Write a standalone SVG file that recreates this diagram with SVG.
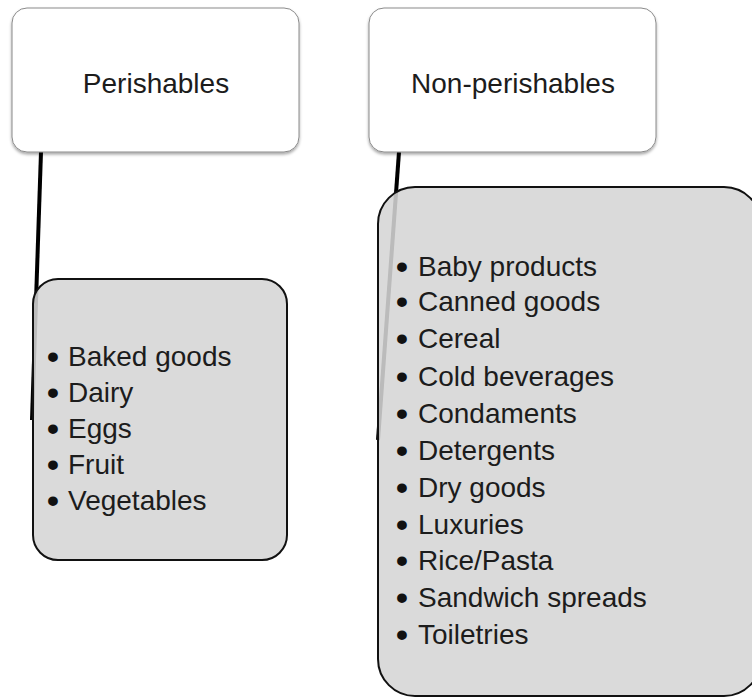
<svg xmlns="http://www.w3.org/2000/svg" width="752" height="698" viewBox="0 0 752 698">
  <defs>
    <filter id="shadow" x="-10%" y="-10%" width="120%" height="130%">
      <feDropShadow dx="0" dy="2" stdDeviation="1.6" flood-color="#000" flood-opacity="0.35"/>
    </filter>
  </defs>
  <style>
    .head { fill: #ffffff; stroke: #8a8a8a; stroke-width: 1; }
    .list { fill: #d5d5d5; fill-opacity: 0.88; stroke: #111111; stroke-width: 2; }
    .link { fill: none; stroke: #000000; stroke-width: 4; stroke-linecap: butt; }
    text { font-family: "Liberation Sans", Arial, sans-serif; font-size: 28px; fill: #1c1c1c; }
    .title { text-anchor: middle; }
    .dot { font-size: 34px; font-weight: bold; fill: #111111; }
  </style>

  <!-- connectors run behind the list boxes -->
  <g id="connectors">
    <path class="link" d="M41,152 L32,420"/>
    <path class="link" d="M399,152 L378,440"/>
  </g>

  <g id="perishables">
    <rect class="head" x="12" y="8" width="287" height="144" rx="15" filter="url(#shadow)"/>
    <text class="title" x="156" y="93">Perishables</text>
  </g>

  <g id="non-perishables">
    <rect class="head" x="369" y="8" width="287" height="144" rx="15" filter="url(#shadow)"/>
    <text class="title" x="513" y="93">Non-perishables</text>
  </g>

  <!-- each line: a bullet dropped onto the x-height, then the item -->
  <g id="perishables-list">
    <rect class="list" x="33" y="279" width="254" height="281" rx="25"/>
    <text x="47" y="366"><tspan class="dot" dy="2">•</tspan><tspan x="68" dy="-2">Baked goods</tspan></text>
    <text x="47" y="402"><tspan class="dot" dy="2">•</tspan><tspan x="68" dy="-2">Dairy</tspan></text>
    <text x="47" y="438"><tspan class="dot" dy="2">•</tspan><tspan x="68" dy="-2">Eggs</tspan></text>
    <text x="47" y="474"><tspan class="dot" dy="2">•</tspan><tspan x="68" dy="-2">Fruit</tspan></text>
    <text x="47" y="510"><tspan class="dot" dy="2">•</tspan><tspan x="68" dy="-2">Vegetables</tspan></text>
  </g>

  <g id="non-perishables-list">
    <rect class="list" x="378" y="187" width="383" height="509" rx="37"/>
    <text x="396" y="276"><tspan class="dot" dy="2">•</tspan><tspan x="418" dy="-2">Baby products</tspan></text>
    <text x="396" y="311"><tspan class="dot" dy="2">•</tspan><tspan x="418" dy="-2">Canned goods</tspan></text>
    <text x="396" y="348"><tspan class="dot" dy="2">•</tspan><tspan x="418" dy="-2">Cereal</tspan></text>
    <text x="396" y="386"><tspan class="dot" dy="2">•</tspan><tspan x="418" dy="-2">Cold beverages</tspan></text>
    <text x="396" y="423"><tspan class="dot" dy="2">•</tspan><tspan x="418" dy="-2">Condaments</tspan></text>
    <text x="396" y="460"><tspan class="dot" dy="2">•</tspan><tspan x="418" dy="-2">Detergents</tspan></text>
    <text x="396" y="497"><tspan class="dot" dy="2">•</tspan><tspan x="418" dy="-2">Dry goods</tspan></text>
    <text x="396" y="534"><tspan class="dot" dy="2">•</tspan><tspan x="418" dy="-2">Luxuries</tspan></text>
    <text x="396" y="570"><tspan class="dot" dy="2">•</tspan><tspan x="418" dy="-2">Rice/Pasta</tspan></text>
    <text x="396" y="607"><tspan class="dot" dy="2">•</tspan><tspan x="418" dy="-2">Sandwich spreads</tspan></text>
    <text x="396" y="644"><tspan class="dot" dy="2">•</tspan><tspan x="418" dy="-2">Toiletries</tspan></text>
  </g>
</svg>
